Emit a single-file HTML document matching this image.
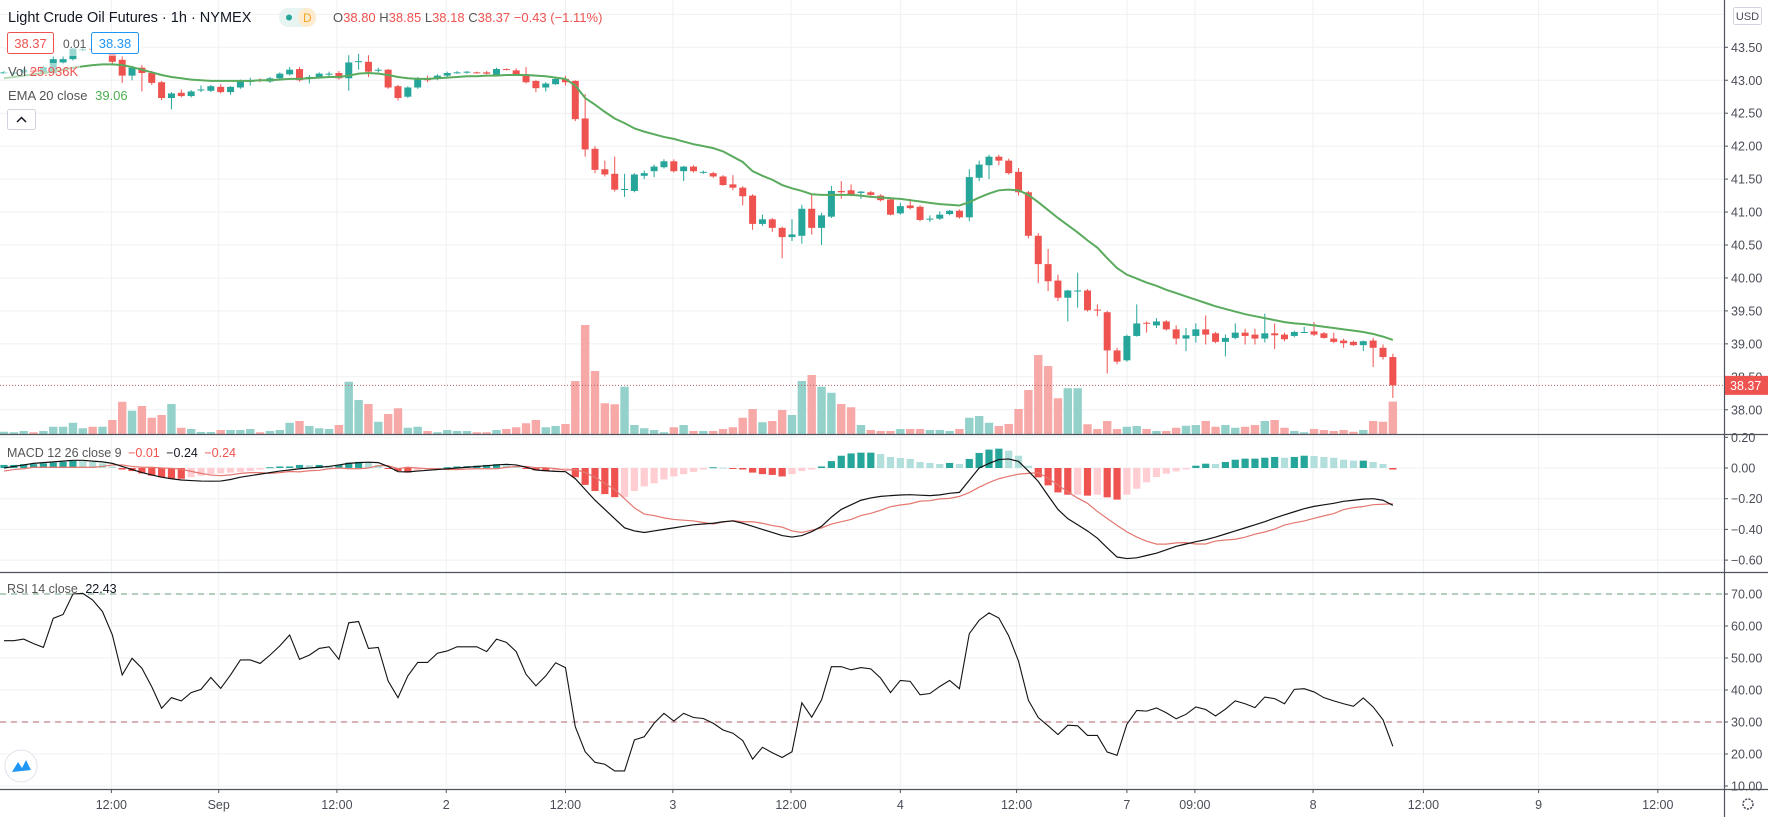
<!DOCTYPE html>
<html><head><meta charset="utf-8"><title>Light Crude Oil Futures 1h</title>
<style>
html,body{margin:0;padding:0;background:#fff;}
svg{display:block;font-family:"Liberation Sans",sans-serif;}
</style></head>
<body>
<svg id="chart" width="1768" height="817" viewBox="0 0 1768 817" xmlns="http://www.w3.org/2000/svg">
<g id="grid"></g>
<g id="volume"></g>
<g id="candles"></g>
<g id="ema"></g>
<g id="macd"></g>
<g id="rsi"></g>
<g id="axes"></g>
<g id="legend">
  <rect x="4" y="30" width="138" height="26" fill="#fff" fill-opacity="0.55"/>
  <rect x="4" y="63" width="76" height="17" fill="#fff" fill-opacity="0.55"/>
  <text x="8" y="22" font-size="14.5" fill="#131722">Light Crude Oil Futures · 1h · NYMEX</text>
  <rect x="279" y="8" width="37" height="19" rx="9" fill="#e8f4f1"/>
  <rect x="298" y="8" width="18" height="19" rx="9" fill="#fdebd0"/>
  <circle cx="289" cy="17.5" r="3" fill="#26a69a"/>
  <text x="303" y="22" font-size="12" fill="#f5a623">D</text>
  <text x="333" y="22" font-size="13" fill="#ef5350"><tspan fill="#555">O</tspan>38.80 <tspan fill="#555">H</tspan>38.85 <tspan fill="#555">L</tspan>38.18 <tspan fill="#555">C</tspan>38.37 −0.43 (−1.11%)</text>
  <rect x="7.5" y="32.5" width="46" height="21" rx="2" fill="#fff" stroke="#ef5350"/>
  <text x="30.5" y="48" font-size="13" fill="#ef5350" text-anchor="middle">38.37</text>
  <text x="63" y="48" font-size="12" fill="#555">0.01</text>
  <rect x="91.5" y="32.5" width="47" height="21" rx="2" fill="#fff" stroke="#2196f3"/>
  <text x="115" y="48" font-size="13" fill="#2196f3" text-anchor="middle">38.38</text>
  <text x="8" y="76" font-size="13" fill="#555">Vol <tspan fill="#ef5350">25.936K</tspan></text>
  <text x="8" y="100" font-size="13" fill="#555">EMA 20 close <tspan fill="#4caf50" dx="4">39.06</tspan></text>
  <rect x="7.5" y="109.5" width="28" height="20" rx="2" fill="#fff" stroke="#d1d4dc"/>
  <path d="M17 122 L21.5 117.5 L26 122" fill="none" stroke="#131722" stroke-width="1.5"/>
  <text x="7" y="457" font-size="12.5" fill="#555">MACD 12 26 close 9 <tspan fill="#ef5350" dx="3">−0.01</tspan> <tspan fill="#131722" dx="3">−0.24</tspan> <tspan fill="#ef5350" dx="3">−0.24</tspan></text>
  <text x="7" y="593" font-size="12.5" fill="#555">RSI 14 close <tspan fill="#131722" dx="4">22.43</tspan></text>
  <circle cx="21" cy="766" r="16" fill="#fff" stroke="#e0e3eb"/>
  <path d="M12 772 L18 762 L22 768 L26 760 L31 770 Z" fill="#2196f3"/>
</g>
</svg>
<script>
// ---- data ----
const openP=[43.11,43.10,43.12,43.15,43.12,43.11,43.27,43.32,43.47,43.48,43.45,43.41,43.31,43.07,43.19,43.11,42.97,42.73,42.81,42.76,42.85,42.84,42.90,42.82,42.89,42.99,43.01,42.98,43.03,43.09,43.17,43.02,43.05,43.10,43.11,43.03,43.28,43.28,43.15,43.16,42.91,42.75,42.89,43.03,43.02,43.07,43.11,43.12,43.12,43.12,43.08,43.17,43.15,43.09,42.99,42.89,42.94,43.02,42.99,42.42,41.96,41.65,41.58,41.34,41.32,41.55,41.62,41.68,41.77,41.62,41.69,41.61,41.59,41.54,41.42,41.37,41.25,40.82,40.89,40.76,40.62,40.64,41.05,40.76,40.93,41.32,41.33,41.29,41.30,41.25,41.19,40.98,41.10,41.08,40.90,40.90,40.97,41.02,40.92,41.52,41.71,41.84,41.78,41.61,41.30,40.64,40.21,39.96,39.70,39.80,39.81,39.52,39.48,38.90,38.75,39.12,39.32,39.28,39.34,39.22,39.08,39.12,39.22,39.16,39.03,39.09,39.17,39.14,39.08,39.16,39.14,39.12,39.18,39.19,39.16,39.08,39.05,39.03,38.98,39.05,38.94,38.80];
const highP=[43.14,43.14,43.18,43.16,43.22,43.36,43.36,43.49,43.50,43.50,43.52,43.45,43.36,43.22,43.23,43.14,42.99,42.82,42.86,42.85,42.92,42.93,42.94,42.91,43.01,43.04,43.03,43.05,43.12,43.20,43.20,43.08,43.12,43.13,43.14,43.38,43.40,43.38,43.19,43.17,42.93,42.91,43.05,43.07,43.09,43.13,43.14,43.14,43.13,43.14,43.19,43.18,43.18,43.20,43.00,42.97,43.04,43.07,43.00,42.79,42.00,41.78,41.84,41.58,41.59,41.63,41.72,41.80,41.80,41.70,41.71,41.63,41.61,41.56,41.56,41.39,41.27,40.96,40.91,40.78,40.89,41.11,41.26,40.99,41.40,41.47,41.42,41.32,41.32,41.27,41.21,41.14,41.20,41.10,40.95,41.01,41.03,41.04,41.65,41.78,41.87,41.87,41.81,41.67,41.32,40.68,40.44,40.05,39.82,40.08,39.83,39.60,39.50,38.94,39.14,39.60,39.34,39.39,39.36,39.28,39.24,39.31,39.43,39.18,39.14,39.31,39.23,39.23,39.46,39.31,39.17,39.20,39.26,39.33,39.18,39.17,39.08,39.05,39.05,39.09,38.99,38.85];
const lowP=[43.10,43.08,43.10,43.10,43.10,43.09,43.25,43.30,43.44,43.44,43.42,43.25,42.96,43.00,42.83,42.93,42.70,42.56,42.74,42.74,42.82,42.82,42.80,42.78,42.87,42.92,42.97,42.96,43.01,43.07,42.98,42.95,43.03,43.06,43.01,42.84,43.16,43.05,43.12,42.87,42.69,42.73,42.87,42.97,43.00,43.05,43.10,43.10,43.10,43.09,43.07,43.15,43.08,42.95,42.82,42.83,42.93,42.92,42.38,41.84,41.59,41.54,41.31,41.23,41.30,41.50,41.53,41.66,41.60,41.47,41.60,41.58,41.52,41.40,41.33,41.10,40.73,40.79,40.70,40.30,40.56,40.52,40.66,40.50,40.91,41.20,41.24,41.20,41.24,41.16,40.95,40.96,41.04,40.86,40.85,40.88,40.95,40.90,40.86,41.47,41.50,41.71,41.57,41.25,40.60,39.92,39.80,39.65,39.34,39.55,39.49,39.42,38.55,38.69,38.73,39.11,39.17,39.24,39.20,38.99,38.89,39.02,38.99,39.01,38.81,39.07,38.99,38.99,39.02,38.92,39.04,39.10,39.17,39.12,39.08,39.01,38.94,38.97,38.89,38.65,38.76,38.18];
const closeP=[43.12,43.12,43.16,43.12,43.20,43.32,43.32,43.48,43.47,43.46,43.50,43.28,43.07,43.19,43.11,42.96,42.73,42.80,42.76,42.83,42.86,42.91,42.82,42.90,43.00,42.99,42.99,43.03,43.10,43.16,43.00,43.05,43.10,43.10,43.03,43.27,43.29,43.13,43.16,42.89,42.73,42.89,43.02,43.00,43.07,43.11,43.12,43.13,43.11,43.10,43.17,43.16,43.09,42.97,42.88,42.95,43.02,42.97,42.41,41.95,41.64,41.57,41.34,41.35,41.57,41.59,41.69,41.77,41.62,41.69,41.62,41.61,41.54,41.41,41.37,41.24,40.82,40.89,40.76,40.62,40.66,41.05,40.76,40.95,41.32,41.30,41.26,41.31,41.26,41.18,40.96,41.09,41.06,40.88,40.90,40.96,41.02,40.92,41.53,41.72,41.84,41.78,41.59,41.30,40.64,40.21,39.95,39.70,39.81,39.81,39.51,39.51,38.90,38.73,39.12,39.31,39.31,39.34,39.22,39.08,39.13,39.22,39.14,39.03,39.09,39.17,39.12,39.08,39.16,39.13,39.07,39.18,39.18,39.14,39.09,39.03,39.01,38.98,39.04,38.94,38.80,38.37];
const volumeK=[1.8,1.4,2.4,1.4,2.4,5.8,5.8,9.0,4.6,5.8,5.8,11.2,25.8,18.6,22.4,13.0,15.2,24.0,5.0,4.0,1.6,1.6,3.2,3.2,3.2,4.0,1.4,2.4,3.2,9.0,10.4,6.4,4.6,4.0,7.2,41.8,27.2,24.0,9.8,16.0,20.6,5.0,5.8,2.4,1.4,3.2,2.4,2.4,1.4,1.4,3.2,4.0,5.4,8.6,11.2,5.4,6.4,8.0,42.4,87.2,50.4,24.6,23.8,37.8,7.2,4.6,3.2,1.4,5.4,7.2,2.4,2.4,2.4,4.0,5.4,13.0,20.0,9.4,10.4,19.2,15.2,42.4,47.2,37.8,33.0,24.0,21.4,7.2,3.2,2.4,2.4,4.0,4.0,4.0,3.2,3.2,2.4,4.0,13.0,14.4,9.0,6.4,8.0,20.0,35.2,63.2,54.4,28.6,36.6,36.6,7.8,4.0,10.4,4.0,5.8,6.4,4.0,2.4,2.4,5.0,6.6,7.2,10.4,5.8,7.2,5.0,5.8,7.2,10.4,11.2,5.0,2.4,1.4,4.0,3.2,2.4,3.2,1.8,3.2,10.4,9.8,25.9];
const ema20=[43.03,43.05,43.07,43.09,43.11,43.13,43.16,43.19,43.21,43.23,43.24,43.24,43.23,43.20,43.16,43.12,43.08,43.05,43.03,43.01,43.00,42.99,42.99,42.99,42.99,42.99,43.00,43.00,43.01,43.02,43.02,43.03,43.04,43.05,43.05,43.07,43.10,43.11,43.10,43.08,43.05,43.03,43.02,43.02,43.03,43.04,43.05,43.06,43.06,43.07,43.07,43.08,43.08,43.08,43.07,43.06,43.04,43.02,42.92,42.73,42.63,42.52,42.42,42.35,42.27,42.22,42.18,42.14,42.11,42.07,42.03,42.00,41.97,41.92,41.84,41.76,41.62,41.55,41.49,41.41,41.36,41.32,41.27,41.26,41.26,41.26,41.26,41.25,41.23,41.22,41.21,41.20,41.18,41.16,41.14,41.12,41.11,41.10,41.15,41.22,41.28,41.33,41.34,41.33,41.26,41.15,41.03,40.91,40.80,40.69,40.57,40.46,40.30,40.15,40.05,39.99,39.93,39.88,39.82,39.77,39.72,39.67,39.62,39.57,39.53,39.49,39.45,39.42,39.39,39.36,39.33,39.31,39.30,39.28,39.26,39.24,39.22,39.20,39.18,39.15,39.11,39.06];
const macdLine=[0.00,0.01,0.02,0.03,0.035,0.04,0.045,0.05,0.05,0.045,0.04,0.03,0.01,-0.01,-0.03,-0.045,-0.06,-0.07,-0.078,-0.082,-0.085,-0.086,-0.085,-0.075,-0.06,-0.05,-0.04,-0.03,-0.02,-0.013,-0.005,0.0,0.005,0.01,0.02,0.03,0.035,0.038,0.035,0.01,-0.024,-0.025,-0.02,-0.015,-0.01,-0.005,0.0,0.005,0.01,0.015,0.02,0.024,0.02,0.005,-0.013,-0.018,-0.022,-0.024,-0.07,-0.14,-0.21,-0.27,-0.33,-0.39,-0.41,-0.42,-0.41,-0.40,-0.39,-0.38,-0.37,-0.365,-0.36,-0.35,-0.345,-0.36,-0.38,-0.40,-0.42,-0.44,-0.45,-0.44,-0.415,-0.38,-0.32,-0.27,-0.24,-0.21,-0.195,-0.185,-0.18,-0.176,-0.174,-0.177,-0.18,-0.175,-0.165,-0.159,-0.08,0.0,0.03,0.055,0.059,0.043,-0.02,-0.087,-0.18,-0.27,-0.33,-0.37,-0.41,-0.457,-0.52,-0.58,-0.59,-0.585,-0.57,-0.555,-0.533,-0.51,-0.495,-0.48,-0.467,-0.45,-0.43,-0.41,-0.39,-0.37,-0.35,-0.326,-0.305,-0.285,-0.265,-0.25,-0.24,-0.23,-0.217,-0.21,-0.203,-0.20,-0.21,-0.243];
const signalLine=[-0.02,-0.01,-0.005,0.005,0.005,0.005,0.005,0.004,0.005,0.005,0.01,0.02,0.02,0.01,0.005,0.005,0.0,-0.002,-0.008,-0.022,-0.035,-0.046,-0.05,-0.045,-0.035,-0.03,-0.03,-0.035,-0.03,-0.023,-0.025,-0.018,-0.015,-0.005,0.0,-0.005,-0.005,0.0,0.015,0.015,-0.004,0.005,0.0,-0.005,-0.005,-0.01,-0.01,-0.007,-0.005,-0.005,-0.005,0.004,0.01,0.01,0.002,0.002,-0.004,-0.014,-0.01,-0.03,-0.06,-0.10,-0.14,-0.20,-0.26,-0.30,-0.31,-0.325,-0.335,-0.34,-0.345,-0.355,-0.365,-0.352,-0.343,-0.35,-0.35,-0.36,-0.375,-0.385,-0.41,-0.42,-0.405,-0.39,-0.365,-0.35,-0.335,-0.31,-0.295,-0.276,-0.252,-0.241,-0.233,-0.216,-0.213,-0.201,-0.198,-0.185,-0.16,-0.125,-0.095,-0.07,-0.054,-0.04,-0.035,-0.03,-0.067,-0.111,-0.156,-0.196,-0.23,-0.283,-0.329,-0.374,-0.416,-0.45,-0.477,-0.496,-0.496,-0.488,-0.486,-0.495,-0.495,-0.476,-0.469,-0.464,-0.451,-0.431,-0.417,-0.398,-0.372,-0.357,-0.345,-0.328,-0.312,-0.297,-0.271,-0.258,-0.251,-0.239,-0.236,-0.233];
const macdHist=[0.02,0.02,0.025,0.025,0.03,0.035,0.04,0.046,0.045,0.04,0.03,0.01,-0.01,-0.02,-0.035,-0.05,-0.06,-0.068,-0.07,-0.06,-0.05,-0.04,-0.035,-0.03,-0.025,-0.02,-0.01,0.005,0.01,0.01,0.02,0.018,0.02,0.015,0.02,0.035,0.04,0.038,0.02,-0.005,-0.02,-0.03,-0.02,-0.01,-0.005,0.005,0.01,0.012,0.015,0.02,0.025,0.02,0.01,-0.005,-0.015,-0.02,-0.018,-0.01,-0.06,-0.11,-0.15,-0.17,-0.19,-0.19,-0.15,-0.12,-0.10,-0.075,-0.055,-0.04,-0.025,-0.01,0.005,0.002,-0.002,-0.01,-0.03,-0.04,-0.045,-0.055,-0.04,-0.02,-0.01,0.01,0.045,0.08,0.095,0.10,0.10,0.091,0.072,0.065,0.059,0.039,0.033,0.026,0.033,0.026,0.059,0.098,0.12,0.126,0.113,0.08,0.015,-0.061,-0.113,-0.159,-0.174,-0.174,-0.18,-0.174,-0.191,-0.206,-0.174,-0.135,-0.093,-0.059,-0.037,-0.022,-0.009,0.015,0.028,0.026,0.039,0.054,0.061,0.061,0.067,0.072,0.067,0.072,0.08,0.078,0.072,0.067,0.054,0.048,0.048,0.039,0.026,-0.01];
const rsiValues=[55.4,55.4,55.9,54.5,53.3,62.4,63.6,70,70.2,68.1,64.5,57.2,44.7,49.9,46.8,41,34.3,37.6,36.6,39.2,40.2,43.9,40.5,44.7,49.4,49.4,48.3,50.9,53.8,57.2,49.6,50.9,53,53.5,49.6,61,61.4,53,53.3,42.8,37.6,44.4,48.6,48.6,51.5,52.2,53.5,53.5,53.5,52,55.9,54.9,52,44.9,41.3,44.4,48.5,47,28.5,20.7,17.4,16.8,14.7,14.7,24.4,25.4,29.6,32.7,30.3,32.7,31.4,31.1,29.6,27.5,26.5,24.2,18.4,22.1,20.4,18.9,20.7,36,31.5,36.9,47.3,47.3,46.3,47,46.6,43.7,39.2,43,42.7,38.5,38.9,41.1,43,40.4,57.6,61.8,64.1,62.5,56.9,49,36.8,31.4,28.8,26.1,29,28.8,25.8,25.8,20.6,19.6,29.3,33.6,33.4,34.4,32.9,31,32.4,34.7,33.9,31.9,34,36.6,35.7,34.5,37.8,37.3,35.7,40.2,40.4,39.4,37.6,36.6,35.7,34.9,37.5,34.7,30.7,22.4];
const priceTicks=[44.00,43.50,43.00,42.50,42.00,41.50,41.00,40.50,40.00,39.50,39.00,38.50,38.00];
const macdTicks=[0.20,0.00,-0.20,-0.40,-0.60];
const rsiTicks=[70,60,50,40,30,20,10];
const timeLabels=["12:00","Sep","12:00","2","12:00","3","12:00","4","12:00","7","09:00","8","12:00","9","12:00"];
const timeIdx=[10.9,21.8,33.8,44.9,57,67.9,79.9,91,102.8,114,120.9,132.9,144.1,155.8,167.9];
const lastPrice=38.37;

// ---- scales ----
const PR=1724;
const xI=i=>4+i*9.85;
const yP=p=>47.3+(43.5-p)*65.9;
const yV=v=>434-v*1.25;
const yM=v=>468-v*153.5;
const yR=r=>594+(70-r)*3.2;
const NS='http://www.w3.org/2000/svg';
function mk(tag,attrs,parent){const e=document.createElementNS(NS,tag);for(const k in attrs)e.setAttribute(k,attrs[k]);parent.appendChild(e);return e;}
const G=id=>document.getElementById(id);

// grid
const grid=G('grid');
timeIdx.forEach(t=>{const l=mk('line',{x1:xI(t),x2:xI(t),y1:0,y2:789,stroke:'#eef0f3','stroke-width':1},grid);

});
priceTicks.forEach(p=>{const l=mk('line',{x1:0,x2:PR,y1:yP(p),y2:yP(p),stroke:'#eef0f3'},grid);

});
macdTicks.forEach(v=>{const l=mk('line',{x1:0,x2:PR,y1:yM(v),y2:yM(v),stroke:'#eef0f3'},grid);

});
rsiTicks.forEach(v=>{const l=mk('line',{x1:0,x2:PR,y1:yR(v),y2:yR(v),stroke:'#eef0f3'},grid);

});

// volume
const vg=G('volume');
volumeK.forEach((v,i)=>{const up=closeP[i]>=openP[i];
const r=mk('rect',{x:xI(i)-4.2,y:yV(v),width:8.4,height:434-yV(v),fill:up?'#93d1ca':'#f7a9a7'},vg);

});

// last price line
const lp=mk('line',{x1:0,x2:PR,y1:yP(lastPrice),y2:yP(lastPrice),stroke:'#b5636b','stroke-dasharray':'1 2','stroke-width':1},G('candles'));



// candles
const cg=G('candles');
openP.forEach((o,i)=>{const c=closeP[i];const up=c>=o;const col=up?'#26a69a':'#ef5350';const x=xI(i);
const w=mk('line',{x1:x,x2:x,y1:yP(highP[i]),y2:yP(lowP[i]),stroke:col,'stroke-width':1},cg);


const top=yP(Math.max(o,c)),bot=yP(Math.min(o,c));
const b=mk('rect',{x:x-3.5,y:top,width:7,height:Math.max(1,bot-top),fill:col},cg);

});

// ema
const ep=mk('polyline',{points:ema20.map((v,i)=>xI(i)+','+yP(v)).join(' '),fill:'none',stroke:'#5aab5e','stroke-width':2},G('ema'));



// macd
const mg=G('macd');
macdHist.forEach((h,i)=>{const prev=i>0?macdHist[i-1]:h;let col;
if(h>=0)col=h>=prev?'#26a69a':'#b2dfdb';else col=h<prev?'#ef5350':'#ffcdd2';
const y0=yM(0),y1=yM(h);
const r=mk('rect',{x:xI(i)-3.6,y:Math.min(y0,y1),width:7.2,height:Math.max(1,Math.abs(y1-y0)),fill:col},mg);

});
const sl=mk('polyline',{points:signalLine.map((v,i)=>xI(i)+','+yM(v)).join(' '),fill:'none',stroke:'#e4776f','stroke-width':1.2},mg);


const ml=mk('polyline',{points:macdLine.map((v,i)=>xI(i)+','+yM(v)).join(' '),fill:'none',stroke:'#131313','stroke-width':1.2},mg);



// rsi
const rg=G('rsi');
const ob=mk('line',{x1:0,x2:PR,y1:yR(70),y2:yR(70),stroke:'#6b9e7c','stroke-dasharray':'6 5'},rg);


const os=mk('line',{x1:0,x2:PR,y1:yR(30),y2:yR(30),stroke:'#b5636b','stroke-dasharray':'6 5'},rg);


const rl=mk('polyline',{points:rsiValues.map((v,i)=>xI(i)+','+yR(v)).join(' '),fill:'none',stroke:'#131313','stroke-width':1.1},rg);



// axes
const ag=G('axes');
[[434,'main-pane-separator'],[572,'macd-pane-separator'],[789,'time-axis-line']].forEach(s=>{
const l=mk('line',{x1:0,x2:1768,y1:s[0]+0.5,y2:s[0]+0.5,stroke:'#50535e','stroke-width':1.2},ag);

});
const vl=mk('line',{x1:PR+0.5,x2:PR+0.5,y1:0,y2:817,stroke:'#50535e','stroke-width':1.2},ag);


function tick(y,label,name){const t=mk('line',{x1:PR,x2:PR+4,y1:y,y2:y,stroke:'#50535e'},ag);


const tx=mk('text',{x:PR+7,y:y+4.5,'font-size':12.5,fill:'#4a4d57'},ag);tx.textContent=label;

}
priceTicks.forEach(p=>{if(p<44)tick(yP(p),p.toFixed(2),'price-tick-label');});
macdTicks.forEach(v=>tick(yM(v),(v<0?'−':'')+Math.abs(v).toFixed(2),'macd-tick-label'));
rsiTicks.forEach(v=>tick(yR(v),v.toFixed(2),'rsi-tick-label'));
timeLabels.forEach((s,k)=>{const x=xI(timeIdx[k]);
const t=mk('line',{x1:x,x2:x,y1:789,y2:793,stroke:'#50535e'},ag);


const tx=mk('text',{x:x,y:809,'font-size':12.5,fill:'#4a4d57','text-anchor':'middle'},ag);tx.textContent=s;

});
// last price label
const lb=mk('rect',{x:PR+1,y:yP(lastPrice)-9.5,width:43,height:19,fill:'#ef5350'},ag);


const lt=mk('text',{x:PR+6,y:yP(lastPrice)+4.5,'font-size':12.5,fill:'#fff'},ag);lt.textContent=lastPrice.toFixed(2);


// USD
const ub=mk('rect',{x:1733.5,y:7.5,width:28,height:17,rx:2,fill:'#fff',stroke:'#d1d4dc'},ag);


const ut=mk('text',{x:1747.5,y:20,'font-size':11,fill:'#4a4d57','text-anchor':'middle'},ag);ut.textContent='USD';


// gear
const gear=mk('circle',{cx:1748,cy:804,r:5,fill:'none',stroke:'#4a4d57','stroke-width':1.5,'stroke-dasharray':'2.2 1.2'},ag);


</script>
</body></html>
